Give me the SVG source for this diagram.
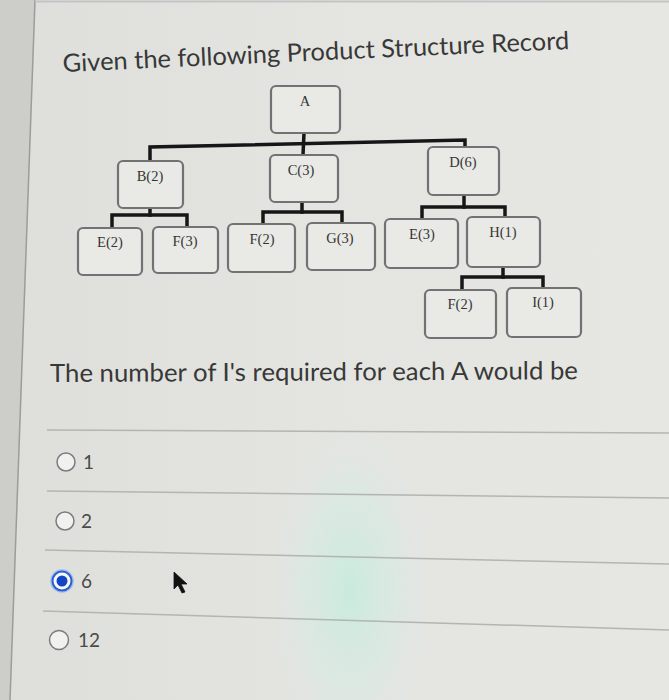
<svg xmlns="http://www.w3.org/2000/svg" width="669" height="700" viewBox="0 0 669 700">
<defs>
<radialGradient id="glow" cx="0.5" cy="0.5" r="0.5">
<stop offset="0" stop-color="#c2ecdd" stop-opacity="0.8"/>
<stop offset="0.55" stop-color="#d2ece3" stop-opacity="0.45"/>
<stop offset="1" stop-color="#e3e3e0" stop-opacity="0"/>
</radialGradient>
<linearGradient id="bg" x1="0" y1="0" x2="1" y2="0">
<stop offset="0" stop-color="#dedfdb"/>
<stop offset="0.5" stop-color="#e4e5e1"/>
<stop offset="1" stop-color="#e6e6e3"/>
</linearGradient>
</defs>
<style>
.box{fill:#e9e9e6;stroke:#727270;stroke-width:2.2}
.lbl{font-family:"Liberation Serif","Times New Roman",serif;font-size:14.5px;fill:#353535;text-anchor:middle}
.con{fill:none;stroke:#161616;stroke-width:3.5;stroke-linecap:square}
.sep{stroke:#b4b4b1;stroke-width:1.5}
.txt{font-family:Lato,"Open Sans",sans-serif;fill:#383838}
.opt{font-family:Lato,"Open Sans",sans-serif;font-size:19px;fill:#4a4a4a}
.rad{fill:#f1f1ef;stroke:#7c7c7a;stroke-width:1.5}
</style>
<rect x="0" y="0" width="669" height="700" fill="url(#bg)"/>
<ellipse cx="350" cy="590" rx="85" ry="175" fill="url(#glow)"/>
<polygon points="0,0 35,0 10,700 0,700" fill="#cdcdca"/>
<line x1="35" y1="0" x2="10" y2="700" stroke="#9c9c99" stroke-width="1.5"/>
<line x1="35" y1="1.5" x2="669" y2="1.5" stroke="#c4c4c1" stroke-width="2"/>

<text class="txt" x="63" y="72" font-size="25" textLength="507" lengthAdjust="spacingAndGlyphs" transform="rotate(-2.6 63 72)">Given the following Product Structure Record</text>

<g id="connectors">
<polyline class="con" points="150,161 150,147 465,140 465,147"/>
<line class="con" x1="304" y1="133" x2="303" y2="155"/>
<polyline class="con" points="112,228 112,215 187,215 187,227"/>
<line class="con" x1="150" y1="208" x2="150" y2="215"/>
<polyline class="con" points="263,224 263,212 342,212 342,223"/>
<line class="con" x1="302" y1="202" x2="302" y2="212"/>
<polyline class="con" points="422,219 422,207 505,207 505,217"/>
<line class="con" x1="464" y1="195" x2="464" y2="207"/>
<polyline class="con" points="462,290 462,277 543,277 543,288"/>
<line class="con" x1="503" y1="267" x2="503" y2="277"/>
</g>

<g id="node-A"><rect class="box" x="271" y="86" width="69" height="47" rx="5"/><text class="lbl" x="305" y="106">A</text></g>
<g id="node-B2"><rect class="box" x="118" y="161" width="65" height="47" rx="5"/><text class="lbl" x="150" y="181">B(2)</text></g>
<g id="node-C3"><rect class="box" x="270" y="155" width="68" height="47" rx="5"/><text class="lbl" x="301" y="175">C(3)</text></g>
<g id="node-D6"><rect class="box" x="428" y="147" width="71" height="48" rx="5"/><text class="lbl" x="463" y="167">D(6)</text></g>
<g id="node-E2"><rect class="box" x="78" y="228" width="64" height="47" rx="5"/><text class="lbl" x="110" y="247">E(2)</text></g>
<g id="node-F3"><rect class="box" x="153" y="227" width="65" height="46" rx="5"/><text class="lbl" x="185" y="246">F(3)</text></g>
<g id="node-F2a"><rect class="box" x="228" y="224" width="67" height="48" rx="5"/><text class="lbl" x="262" y="244">F(2)</text></g>
<g id="node-G3"><rect class="box" x="307" y="223" width="68" height="47" rx="5"/><text class="lbl" x="340" y="243">G(3)</text></g>
<g id="node-E3"><rect class="box" x="385" y="219" width="73" height="49" rx="5"/><text class="lbl" x="422" y="239">E(3)</text></g>
<g id="node-H1"><rect class="box" x="467" y="217" width="73" height="50" rx="5"/><text class="lbl" x="503" y="237">H(1)</text></g>
<g id="node-F2b"><rect class="box" x="425" y="290" width="71" height="48" rx="5"/><text class="lbl" x="460" y="309">F(2)</text></g>
<g id="node-I1"><rect class="box" x="507" y="288" width="74" height="49" rx="5"/><text class="lbl" x="543" y="307">I(1)</text></g>

<text class="txt" x="50" y="382" font-size="25" textLength="528" lengthAdjust="spacingAndGlyphs" transform="rotate(-0.3 50 382)">The number of I's required for each A would be</text>

<line class="sep" x1="47" y1="430" x2="669" y2="433"/>
<line class="sep" x1="47" y1="491" x2="669" y2="498"/>
<line class="sep" x1="45" y1="550" x2="669" y2="564"/>
<line class="sep" x1="43" y1="611" x2="669" y2="630"/>

<g id="opt-1"><circle class="rad" cx="66" cy="462" r="9"/><text class="opt" x="83" y="469">1</text></g>
<g id="opt-2"><circle class="rad" cx="65" cy="521" r="9"/><text class="opt" x="81" y="528">2</text></g>
<g id="opt-6">
<circle cx="62" cy="581" r="11" fill="none" stroke="#9db8ea" stroke-width="1.5"/>
<circle cx="62" cy="581" r="9.5" fill="#f6f8fc" stroke="#2a5fcf" stroke-width="2"/>
<circle cx="62" cy="581" r="5.5" fill="#1444c4"/>
<text class="opt" x="81" y="588">6</text></g>
<g id="opt-12"><circle class="rad" cx="59" cy="640" r="9.5"/><text class="opt" x="78" y="647">12</text></g>

<polygon points="174,572 174,589 178,585 182,593 185,592 181,584 187,584" fill="#111" stroke="#111" stroke-width="0.8" stroke-linejoin="round"/>
</svg>
